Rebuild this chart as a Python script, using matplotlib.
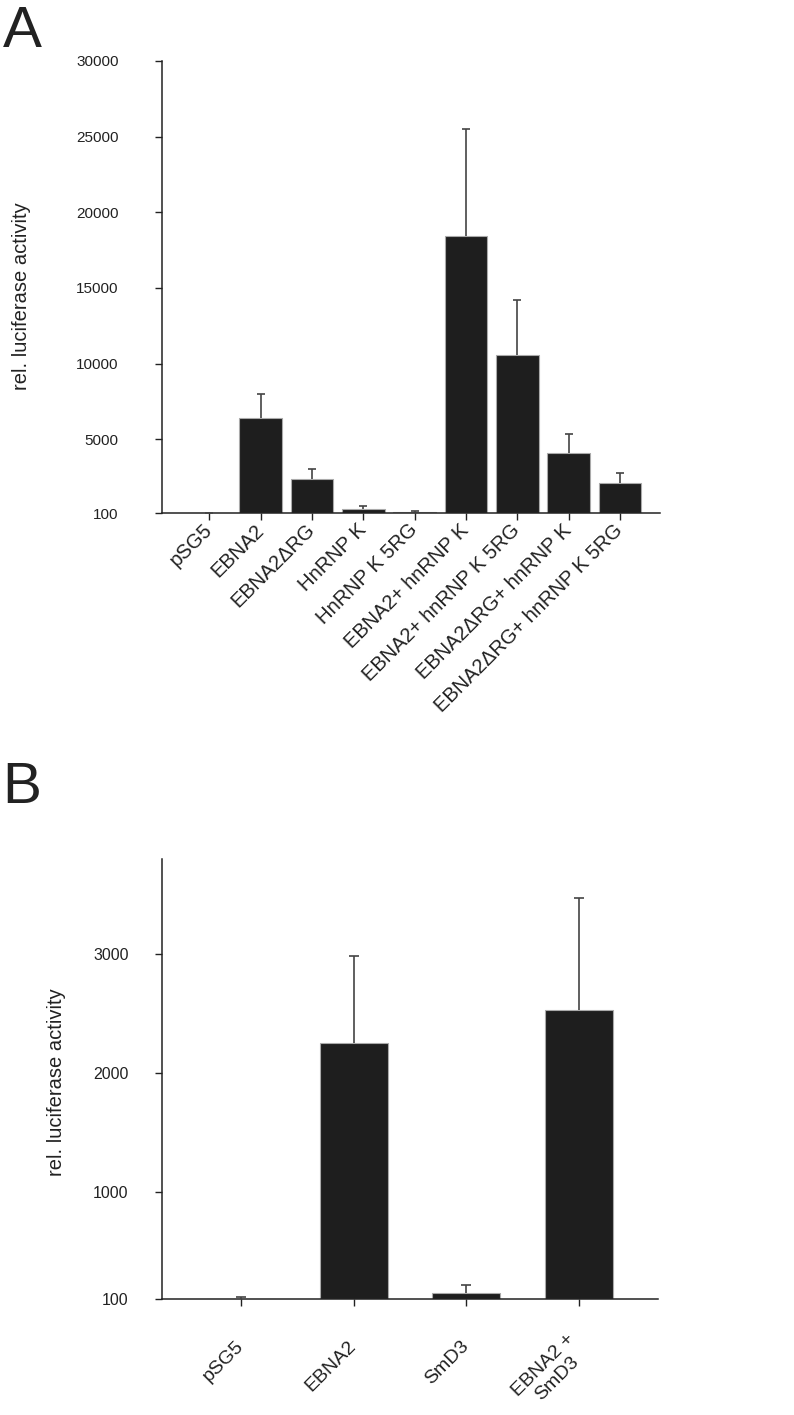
import matplotlib
matplotlib.use("Agg")
import matplotlib.pyplot as plt
import numpy as np

plt.rcParams['font.family'] = ['Liberation Sans', 'DejaVu Sans']

# panel A
labels_a = ['pSG5', 'EBNA2', 'EBNA2\u0394RG', 'HnRNP K', 'HnRNP K 5RG',
            'EBNA2+ hnRNP K', 'EBNA2+ hnRNP K 5RG', 'EBNA2\u0394RG+ hnRNP K',
            'EBNA2\u0394RG+ hnRNP K 5RG']
values_a = [105, 6385, 2350, 410, 190, 18450, 10550, 4090, 2130]
errors_a = [40, 1625, 680, 180, 85, 7030, 3635, 1255, 620]
yticks_a = [100, 5000, 10000, 15000, 20000, 25000, 30000]

# panel B
labels_b = ['pSG5', 'EBNA2', 'SmD3', 'EBNA2 +\nSmD3']
values_b = [100, 2252, 153, 2532]
errors_b = [17, 734, 67, 941]
yticks_b = [100, 1000, 2000, 3000]

W, H = 794, 1415
fig = plt.figure(figsize=(W / 100, H / 100), dpi=100)

bar_color = '#1e1e1e'
text_color = '#222222'


def panel(rect, labels, values, errors, yticks, ylim, xlim, width,
          capsize, yfs, xfs, ypad, xpad):
    ax = fig.add_axes(rect)
    x = np.arange(len(labels))
    ax.bar(x, values, width=width, color=bar_color, edgecolor='#aaaaaa',
           linewidth=0.8, zorder=2)
    eb = ax.errorbar(x, values, yerr=[np.zeros(len(values)), errors],
                     fmt='none', ecolor='#444444', elinewidth=1.2,
                     capsize=capsize, capthick=1.2, zorder=3)
    # only the upper half of each error bar is shown
    eb[1][0].set_visible(False)
    ax.set_xlim(*xlim)
    ax.set_ylim(*ylim)
    ax.set_yticks(yticks)
    ax.set_yticklabels([str(t) for t in yticks])
    ax.set_xticks(x)
    ax.set_xticklabels(labels, rotation=45, ha='right', va='center',
                       rotation_mode='anchor', multialignment='center')
    for s in ['top', 'right']:
        ax.spines[s].set_visible(False)
    for s in ['left', 'bottom']:
        ax.spines[s].set_linewidth(1.1)
        ax.spines[s].set_color(text_color)
    ax.tick_params(axis='y', length=5, width=1.0, pad=ypad, labelsize=yfs,
                   colors=text_color)
    ax.tick_params(axis='x', length=5, width=1.0, pad=xpad, labelsize=xfs,
                   colors=text_color)
    return ax


panel([161.7 / W, 1 - 513.3 / H, (660 - 161.7) / W, (513.3 - 61) / H],
      labels_a, values_a, errors_a, yticks_a, (100, 30000), (-0.93, 8.78),
      0.83, 3.0, 11, 14.5, 26, 5)

panel([162 / W, 1 - 1299 / H, (658 - 162) / W, (1299 - 859) / H],
      labels_b, values_b, errors_b, yticks_b, (100, 3800), (-0.70, 3.70),
      0.605, 3.4, 11.5, 14, 19, 27)

fig.text(22 / W, 1 - 296 / H, 'rel. luciferase activity', rotation=90,
         ha='center', va='center', fontsize=14.5, color=text_color)
fig.text(57 / W, 1 - 1082 / H, 'rel. luciferase activity', rotation=90,
         ha='center', va='center', fontsize=14.5, color=text_color)

fig.text(0.004, 1 - 47 / H, 'A', fontsize=42, ha='left', va='baseline',
         color=text_color)
fig.text(0.003, 1 - 803 / H, 'B', fontsize=42, ha='left', va='baseline',
         color=text_color)

fig.savefig('out.png', dpi=100, facecolor='white')
